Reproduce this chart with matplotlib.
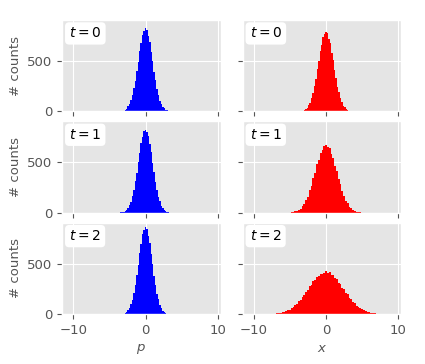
import numpy as np
import matplotlib
matplotlib.use("Agg")
import matplotlib.pyplot as plt

plt.style.use("ggplot")

# histogram counts (bin width, first bin centre, counts)
P_W = 0.2
P_START = -4.0
p_t0 = [0, 1, 1, 2, 6, 8, 17, 26, 49, 70, 115, 158, 231, 301, 405, 489, 601, 676, 760, 795,
        822, 808, 745, 690, 586, 502, 393, 312, 222, 166, 107, 76, 44, 29, 15, 10, 4, 3, 1, 0, 1]
p_t1 = [1, 0, 2, 3, 4, 10, 15, 30, 44, 75, 108, 165, 224, 310, 396, 500, 588, 688, 748, 805,
        815, 798, 758, 679, 598, 491, 402, 303, 230, 159, 113, 71, 47, 27, 17, 8, 5, 2, 1, 1, 0]
p_t2 = [0, 0, 1, 2, 3, 5, 12, 19, 37, 57, 96, 139, 211, 284, 391, 486, 607, 694, 790, 829,
        862, 840, 776, 706, 594, 497, 380, 293, 203, 146, 90, 61, 33, 21, 10, 6, 2, 1, 1, 0, 0]

X0_W = 0.2
X0_START = -4.0
x_t0 = [1, 1, 2, 4, 9, 13, 25, 37, 62, 88, 136, 180, 256, 321, 420, 495, 598, 660, 738, 764,
        788, 775, 722, 675, 582, 509, 406, 333, 246, 189, 128, 93, 57, 41, 22, 15, 7, 5, 2, 1, 0]

X1_W = 0.25
X1_START = -5.0
x_t1 = [2, 4, 6, 13, 18, 31, 42, 66, 87, 127, 161, 221, 269, 344, 398, 479, 527, 596, 622, 664,
        672, 650, 638, 581, 541, 465, 411, 332, 280, 212, 170, 120, 93, 61, 46, 27, 20, 11, 8, 3, 2]

X2_W = 0.25
X2_START = -9.0
x_t2 = [0, 1, 0, 1, 2, 1, 3, 5, 5, 9, 10, 15, 17, 26, 28, 40, 45, 62, 70, 90, 101, 127, 140,
        171, 186, 222, 236, 275, 289, 326, 335, 370, 376, 402, 398, 405,
        425, 409, 414, 388, 390, 355, 348, 312, 300, 262, 248, 210, 196, 161, 148, 119, 108,
        84, 75, 56, 49, 36, 31, 22, 19, 13, 11, 7, 6, 4, 3, 2, 1, 2, 1, 0, 1]

times = [0, 1, 2]
p_hists = [(P_START, P_W, p_t0), (P_START, P_W, p_t1), (P_START, P_W, p_t2)]
x_hists = [(X0_START, X0_W, x_t0), (X1_START, X1_W, x_t1), (X2_START, X2_W, x_t2)]

fig, axes = plt.subplots(3, 2, figsize=(4.25, 3.64), dpi=100, sharex=True, sharey=True)
fig.subplots_adjust(left=0.146, right=0.944, top=0.945, bottom=0.137,
                    wspace=0.138, hspace=0.109)


def draw(ax, start, w, counts, color):
    centers = start + w * np.arange(len(counts))
    ax.bar(centers, counts, width=w, color=color, linewidth=0)


for i, t in enumerate(times):
    draw(axes[i, 0], *p_hists[i], "blue")
    draw(axes[i, 1], *x_hists[i], "red")
    for ax in axes[i]:
        ax.text(0.045, 0.93, f"$t={t}$", transform=ax.transAxes, ha="left", va="top",
                fontsize=10, color="black",
                bbox=dict(boxstyle="round,pad=0.3", fc="white", ec="none"))
    axes[i, 0].set_ylabel("# counts", fontsize=9.5)

axes[0, 0].set_xlim(-11.55, 10.4)
axes[0, 0].set_ylim(0, 905)
axes[0, 0].set_xticks([-10, 0, 10])
axes[0, 0].set_yticks([0, 500])
for ax in axes.flat:
    ax.tick_params(labelsize=9.5)
axes[2, 0].set_xlabel("$p$", fontsize=9.5)
axes[2, 1].set_xlabel("$x$", fontsize=9.5)

plt.savefig("out.png", dpi=100)
